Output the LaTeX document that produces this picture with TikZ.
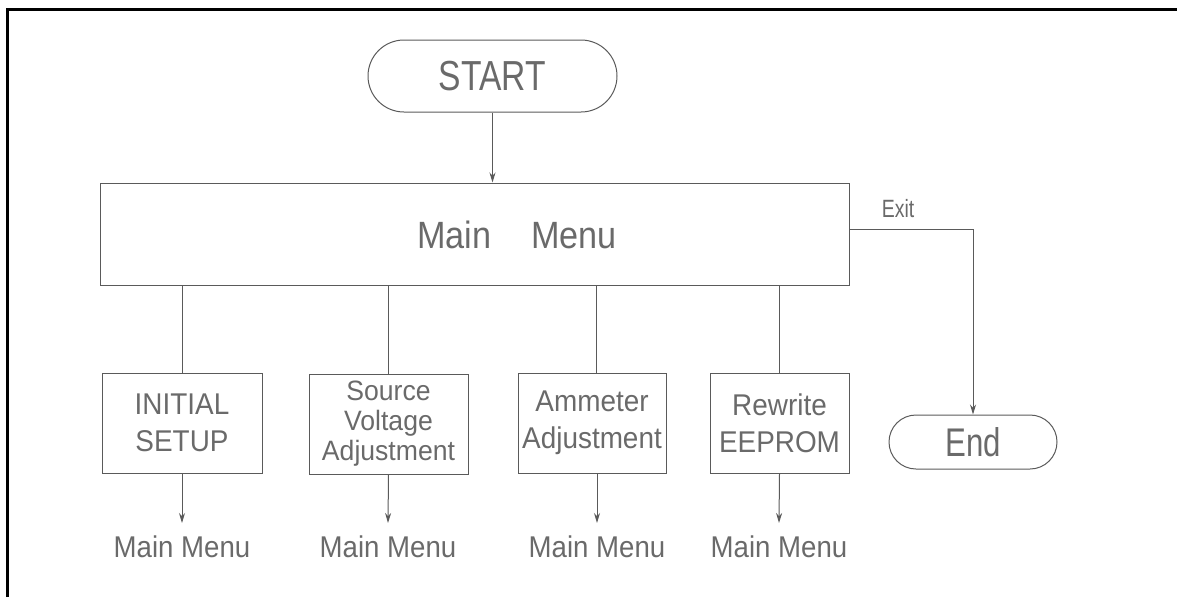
\documentclass[tikz,border=0pt]{standalone}
\usepackage{fontspec}
\usepackage{graphicx}
\setmainfont{Liberation Sans}
\usetikzlibrary{shapes.misc,arrows.meta}
\definecolor{lineg}{HTML}{5A5A5A}
\definecolor{textg}{HTML}{6A6A6A}
\newcommand\sq[2]{\scalebox{#1}[1]{#2}}
\tikzset{
  frame/.style={draw=black, line width=3pt},
  ln/.style={draw=lineg, line width=1pt},
  box/.style={draw=lineg, line width=1pt, rectangle, inner sep=0pt, text=textg, align=center},
  term/.style={draw=lineg, line width=1pt, rounded rectangle, inner sep=0pt, text=textg},
  txt/.style={text=textg, inner sep=0pt, align=center},
  arr/.style={ln, -{Stealth[length=10pt,width=6pt]}},
  boxfont/.style={font=\fontsize{30}{37}\selectfont},
  lblfont/.style={font=\fontsize{30}{36}\selectfont}
}
\begin{document}
\begin{tikzpicture}[x=1pt,y=-1pt]
\useasboundingbox (0,0) rectangle (1177,597);
\draw[frame] (7,597) -- (7,9) -- (1177,9);

\node[term, minimum width=249pt, minimum height=72pt, font=\fontsize{42}{48}\selectfont] (start) at (492.5,76) {\sq{0.8}{START}};
\node[box, minimum width=749pt, minimum height=102pt] (main) at (474.5,234) {};
\node[txt, font=\fontsize{38}{44}\selectfont, anchor=base] (maintxt) at (517,248) {\sq{0.9}{Main}\hspace{40pt}\sq{0.9}{Menu}};

\node[box, boxfont, minimum width=160pt, minimum height=100pt] (b1) at (182,423) {\sq{0.93}{INITIAL}\\\sq{0.93}{SETUP}};
\node[box, font=\fontsize{28}{30}\selectfont, minimum width=159pt, minimum height=100pt] (b2) at (388.5,424) {\sq{0.95}{Source}\\\sq{0.95}{Voltage}\\\sq{0.95}{Adjustment}};
\node[box, boxfont, minimum width=148pt, minimum height=100pt] (b3) at (592,423) {\sq{0.93}{Ammeter}\\\sq{0.93}{Adjustment}};
\node[box, boxfont, minimum width=139pt, minimum height=100pt] (b4) at (779.5,423) {\sq{0.93}{Rewrite}\\\sq{0.93}{EEPROM}};

\node[term, minimum width=168pt, minimum height=54pt, font=\fontsize{40}{46}\selectfont] (end) at (973,442) {\sq{0.78}{End}};

\node[txt, lblfont, anchor=base] (m1) at (182,557) {\sq{0.92}{Main Menu}};
\node[txt, lblfont, anchor=base] (m2) at (388,557) {\sq{0.92}{Main Menu}};
\node[txt, lblfont, anchor=base] (m3) at (597,557) {\sq{0.92}{Main Menu}};
\node[txt, lblfont, anchor=base] (m4) at (779,557) {\sq{0.92}{Main Menu}};

\node[txt, font=\fontsize{25}{30}\selectfont, anchor=base] (exit) at (898,217) {\sq{0.78}{Exit}};

\coordinate (turn) at (973,229);
\draw[arr] (start.south) -- (start.south |- main.north);
\draw[ln] (main.east |- turn) -- (turn);
\draw[arr] (turn) -- (end.north);

\draw[ln] (b1.north |- main.south) -- (b1.north);
\draw[ln] (b2.north |- main.south) -- (b2.north);
\draw[ln] (596,285) coordinate (c3) -- (c3 |- b3.north);
\draw[ln] (b4.north |- main.south) -- (b4.north);

\coordinate (a1) at (182,523);
\coordinate (a2) at (388,523);
\coordinate (a3) at (597,523);
\coordinate (a4) at (779,523);
\draw[arr] (b1.south) -- (a1);
\draw[arr] (b2.south) -- (a2);
\draw[arr] (597,473) -- (a3);
\draw[arr] (b4.south) -- (a4);
\end{tikzpicture}
\end{document}
